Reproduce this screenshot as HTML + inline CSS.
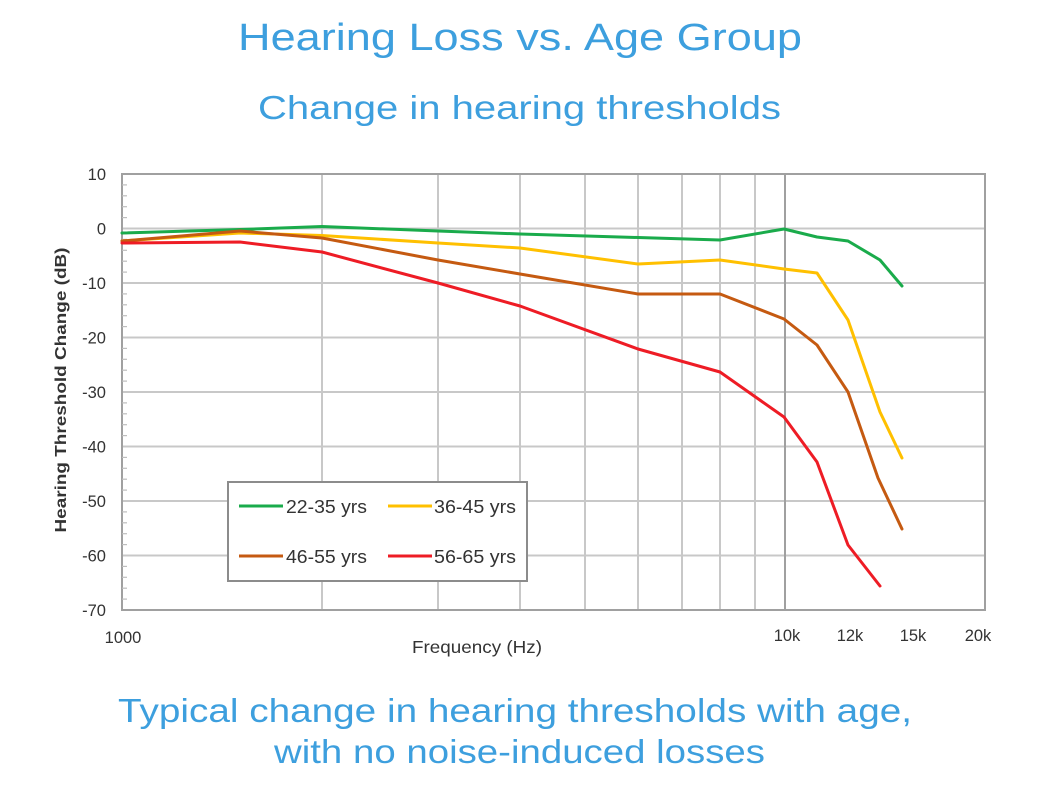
<!DOCTYPE html>
<html>
<head>
<meta charset="utf-8">
<style>
  html, body { margin: 0; padding: 0; background: #ffffff; }
  svg { display: block; }
</style>
</head>
<body>
<svg width="1051" height="787" viewBox="0 0 1051 787" xmlns="http://www.w3.org/2000/svg">
  <rect x="0" y="0" width="1051" height="787" fill="#ffffff"/>

  <!-- Titles -->
  <g font-family="'Liberation Sans', 'DejaVu Sans', sans-serif" fill="#3d9fde">
    <text x="238" y="50" font-size="38" textLength="564" lengthAdjust="spacingAndGlyphs">Hearing Loss vs. Age Group</text>
    <text x="258" y="119" font-size="33" textLength="523" lengthAdjust="spacingAndGlyphs">Change in hearing thresholds</text>
    <text x="118" y="722" font-size="33" textLength="794" lengthAdjust="spacingAndGlyphs">Typical change in hearing thresholds with age,</text>
    <text x="274" y="763" font-size="33" textLength="491" lengthAdjust="spacingAndGlyphs">with no noise-induced losses</text>
  </g>

  <!-- Grid: horizontal -->
  <g stroke="#c8c8c8" stroke-width="2" fill="none">
    <line x1="122" y1="228.5" x2="985" y2="228.5"/>
    <line x1="122" y1="283" x2="985" y2="283"/>
    <line x1="122" y1="337.5" x2="985" y2="337.5"/>
    <line x1="122" y1="392" x2="985" y2="392"/>
    <line x1="122" y1="446.5" x2="985" y2="446.5"/>
    <line x1="122" y1="501" x2="985" y2="501"/>
    <line x1="122" y1="555.5" x2="985" y2="555.5"/>
    <!-- vertical -->
    <line x1="322" y1="174" x2="322" y2="610"/>
    <line x1="438" y1="174" x2="438" y2="610"/>
    <line x1="520" y1="174" x2="520" y2="610"/>
    <line x1="585" y1="174" x2="585" y2="610"/>
    <line x1="638" y1="174" x2="638" y2="610"/>
    <line x1="682" y1="174" x2="682" y2="610"/>
    <line x1="720" y1="174" x2="720" y2="610"/>
    <line x1="755" y1="174" x2="755" y2="610"/>
  </g>
  <g stroke="#a0a0a0" stroke-width="2" fill="none">
    <line x1="785" y1="174" x2="785" y2="610"/>
    <rect x="122" y="174" width="863" height="436"/>
  </g>

  <!-- minor y ticks -->
  <g stroke="#bdbdbd" stroke-width="1.2">
    <line x1="122" y1="184.9" x2="127" y2="184.9"/><line x1="122" y1="195.8" x2="127" y2="195.8"/><line x1="122" y1="206.7" x2="127" y2="206.7"/><line x1="122" y1="217.6" x2="127" y2="217.6"/>
    <line x1="122" y1="239.4" x2="127" y2="239.4"/><line x1="122" y1="250.3" x2="127" y2="250.3"/><line x1="122" y1="261.2" x2="127" y2="261.2"/><line x1="122" y1="272.1" x2="127" y2="272.1"/>
    <line x1="122" y1="293.9" x2="127" y2="293.9"/><line x1="122" y1="304.8" x2="127" y2="304.8"/><line x1="122" y1="315.7" x2="127" y2="315.7"/><line x1="122" y1="326.6" x2="127" y2="326.6"/>
    <line x1="122" y1="348.4" x2="127" y2="348.4"/><line x1="122" y1="359.3" x2="127" y2="359.3"/><line x1="122" y1="370.2" x2="127" y2="370.2"/><line x1="122" y1="381.1" x2="127" y2="381.1"/>
    <line x1="122" y1="402.9" x2="127" y2="402.9"/><line x1="122" y1="413.8" x2="127" y2="413.8"/><line x1="122" y1="424.7" x2="127" y2="424.7"/><line x1="122" y1="435.6" x2="127" y2="435.6"/>
    <line x1="122" y1="457.4" x2="127" y2="457.4"/><line x1="122" y1="468.3" x2="127" y2="468.3"/><line x1="122" y1="479.2" x2="127" y2="479.2"/><line x1="122" y1="490.1" x2="127" y2="490.1"/>
    <line x1="122" y1="511.9" x2="127" y2="511.9"/><line x1="122" y1="522.8" x2="127" y2="522.8"/><line x1="122" y1="533.7" x2="127" y2="533.7"/><line x1="122" y1="544.6" x2="127" y2="544.6"/>
    <line x1="122" y1="566.4" x2="127" y2="566.4"/><line x1="122" y1="577.3" x2="127" y2="577.3"/><line x1="122" y1="588.2" x2="127" y2="588.2"/><line x1="122" y1="599.1" x2="127" y2="599.1"/>
  </g>

  <!-- Y tick labels -->
  <g font-family="'Liberation Sans', sans-serif" font-size="16.5" fill="#333333" text-anchor="end">
    <text x="106" y="180">10</text>
    <text x="106" y="234.5">0</text>
    <text x="106" y="289">-10</text>
    <text x="106" y="343.5">-20</text>
    <text x="106" y="398">-30</text>
    <text x="106" y="452.5">-40</text>
    <text x="106" y="507">-50</text>
    <text x="106" y="561.5">-60</text>
    <text x="106" y="616">-70</text>
  </g>

  <!-- X tick labels -->
  <g font-family="'Liberation Sans', sans-serif" font-size="16.5" fill="#333333" text-anchor="middle">
    <text x="123" y="643">1000</text>
    <text x="787" y="641">10k</text>
    <text x="850" y="641">12k</text>
    <text x="913" y="641">15k</text>
    <text x="978" y="641">20k</text>
  </g>

  <!-- Axis titles -->
  <text x="412" y="653" font-family="'Liberation Sans', sans-serif" font-size="17.5" fill="#333333" textLength="130" lengthAdjust="spacingAndGlyphs">Frequency (Hz)</text>
  <text transform="translate(66,390) rotate(-90)" text-anchor="middle" font-family="'Liberation Sans', sans-serif" font-size="16" font-weight="bold" fill="#333333" textLength="285" lengthAdjust="spacingAndGlyphs">Hearing Threshold Change (dB)</text>

  <!-- Series -->
  <g fill="none" stroke-width="3" stroke-linejoin="round" stroke-linecap="round">
    <polyline stroke="#1aab4b" points="122,233 240,229.5 322,226.5 438,231 520,234 638,237.5 720,240 784,229 817,237 848,241 880,260 902,286"/>
    <polyline stroke="#ffc000" points="122,241 240,233 322,235.5 438,243 520,248 638,264 720,260 784,269 817,273 848,320 880,412 902,458"/>
    <polyline stroke="#c55a11" points="122,241 240,231 322,238 438,260 520,274 638,294 720,294 784,319 817,345 848,392 878,478 902,529"/>
    <polyline stroke="#ee1c25" points="122,243 240,242 322,252 438,283 520,306 638,349 720,372 784,417 817,462 848,545 880,586"/>
  </g>

  <!-- Legend -->
  <rect x="228" y="482" width="299" height="99" fill="#ffffff" stroke="#8c8c8c" stroke-width="2"/>
  <g stroke-width="3">
    <line x1="239" y1="506" x2="283" y2="506" stroke="#1aab4b"/>
    <line x1="388" y1="506" x2="432" y2="506" stroke="#ffc000"/>
    <line x1="239" y1="556" x2="283" y2="556" stroke="#c55a11"/>
    <line x1="388" y1="556" x2="432" y2="556" stroke="#ee1c25"/>
  </g>
  <g font-family="'Liberation Sans', sans-serif" font-size="18" fill="#333333">
    <text x="286" y="513" textLength="81" lengthAdjust="spacingAndGlyphs">22-35 yrs</text>
    <text x="434" y="513" textLength="82" lengthAdjust="spacingAndGlyphs">36-45 yrs</text>
    <text x="286" y="563" textLength="81" lengthAdjust="spacingAndGlyphs">46-55 yrs</text>
    <text x="434" y="563" textLength="82" lengthAdjust="spacingAndGlyphs">56-65 yrs</text>
  </g>
</svg>
</body>
</html>
